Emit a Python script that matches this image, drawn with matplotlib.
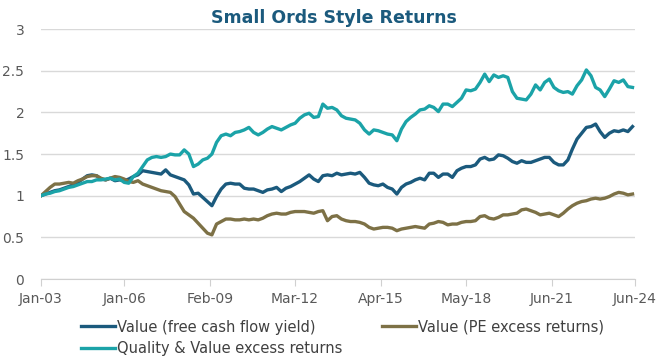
import pandas as pd
import matplotlib
matplotlib.use("Agg")
import matplotlib.pyplot as plt

# bimonthly readings, Jan-03 .. May-24
dates = pd.date_range("2003-01-01", periods=129, freq="2MS")

fcf_yield = [
    1.00, 1.02, 1.04, 1.06, 1.07, 1.09, 1.11, 1.13, 1.16, 1.20, 1.24, 1.25, 1.24, 1.20, 1.19, 1.21,
    1.18, 1.19, 1.18, 1.20, 1.23, 1.25, 1.30, 1.29, 1.28, 1.27, 1.26, 1.31, 1.25, 1.23, 1.21, 1.19,
    1.13, 1.02, 1.03, 0.98, 0.93, 0.88, 0.99, 1.08, 1.14, 1.15, 1.14, 1.14, 1.09, 1.08, 1.08, 1.06,
    1.04, 1.07, 1.08, 1.10, 1.05, 1.09, 1.11, 1.14, 1.17, 1.21, 1.25, 1.20, 1.17, 1.24, 1.25, 1.24,
    1.27, 1.25, 1.26, 1.27, 1.26, 1.28, 1.22, 1.15, 1.13, 1.12, 1.14, 1.10, 1.08, 1.02, 1.10, 1.14,
    1.16, 1.19, 1.21, 1.19, 1.27, 1.27, 1.22, 1.26, 1.26, 1.22, 1.30, 1.33, 1.35, 1.35, 1.37, 1.44,
    1.46, 1.43, 1.44, 1.49, 1.48, 1.45, 1.41, 1.39, 1.42, 1.40, 1.40, 1.42, 1.44, 1.46, 1.46, 1.40,
    1.37, 1.37, 1.43, 1.56, 1.68, 1.75, 1.82, 1.83, 1.86, 1.77, 1.70, 1.75, 1.78, 1.77, 1.79, 1.77,
    1.83,
]

pe_excess = [
    1.00, 1.05, 1.10, 1.14, 1.14, 1.15, 1.16, 1.15, 1.18, 1.20, 1.23, 1.24, 1.24, 1.21, 1.19, 1.21,
    1.23, 1.22, 1.20, 1.17, 1.16, 1.18, 1.14, 1.12, 1.10, 1.08, 1.06, 1.05, 1.04, 0.99, 0.90, 0.81,
    0.77, 0.73, 0.67, 0.61, 0.55, 0.53, 0.66, 0.69, 0.72, 0.72, 0.71, 0.71, 0.72, 0.71, 0.72, 0.71,
    0.73, 0.76, 0.78, 0.79, 0.78, 0.78, 0.80, 0.81, 0.81, 0.81, 0.80, 0.79, 0.81, 0.82, 0.70, 0.75,
    0.76, 0.72, 0.70, 0.69, 0.69, 0.68, 0.66, 0.62, 0.60, 0.61, 0.62, 0.62, 0.61, 0.58, 0.60, 0.61,
    0.62, 0.63, 0.62, 0.61, 0.66, 0.67, 0.69, 0.68, 0.65, 0.66, 0.66, 0.68, 0.69, 0.69, 0.70, 0.75,
    0.76, 0.73, 0.72, 0.74, 0.77, 0.77, 0.78, 0.79, 0.83, 0.84, 0.82, 0.80, 0.77, 0.78, 0.79, 0.77,
    0.75, 0.79, 0.84, 0.88, 0.91, 0.93, 0.94, 0.96, 0.97, 0.96, 0.97, 0.99, 1.02, 1.04, 1.03, 1.01,
    1.02,
]

quality_value = [
    1.00, 1.02, 1.03, 1.05, 1.06, 1.08, 1.10, 1.11, 1.13, 1.15, 1.17, 1.17, 1.19, 1.19, 1.20, 1.21,
    1.19, 1.20, 1.16, 1.15, 1.23, 1.27, 1.35, 1.43, 1.46, 1.47, 1.46, 1.47, 1.50, 1.49, 1.49, 1.55,
    1.50, 1.35, 1.38, 1.43, 1.45, 1.50, 1.64, 1.72, 1.74, 1.72, 1.76, 1.77, 1.79, 1.82, 1.76, 1.73,
    1.76, 1.80, 1.83, 1.81, 1.79, 1.82, 1.85, 1.87, 1.93, 1.97, 1.99, 1.94, 1.95, 2.10, 2.05, 2.06,
    2.03, 1.96, 1.93, 1.92, 1.91, 1.87, 1.79, 1.74, 1.79, 1.78, 1.76, 1.74, 1.73, 1.66, 1.80, 1.89,
    1.94, 1.98, 2.03, 2.04, 2.08, 2.06, 2.01, 2.10, 2.10, 2.07, 2.12, 2.17, 2.27, 2.26, 2.28, 2.36,
    2.46, 2.37, 2.45, 2.42, 2.44, 2.42, 2.25, 2.17, 2.16, 2.15, 2.22, 2.33, 2.27, 2.36, 2.40, 2.30,
    2.26, 2.24, 2.25, 2.22, 2.32, 2.39, 2.51, 2.44, 2.30, 2.27, 2.19, 2.28, 2.38, 2.36, 2.39, 2.31,
    2.30,
]

tick_dates = ["2003-01-01", "2006-01-01", "2009-02-01", "2012-03-01",
              "2015-04-01", "2018-05-01", "2021-06-01", "2024-06-01"]
tick_labels = ["Jan-03", "Jan-06", "Feb-09", "Mar-12", "Apr-15", "May-18", "Jun-21", "Jun-24"]

navy = "#1b5a7d"
olive = "#7d7146"
teal = "#1ba3a8"

fig = plt.figure(figsize=(6.68, 3.64), dpi=100)
ax = fig.add_axes([0.0614, 0.2335, 0.889, 0.6865])

l1, = ax.plot(dates, fcf_yield, color=navy, lw=2.4, label="Value (free cash flow yield)")
l2, = ax.plot(dates, pe_excess, color=olive, lw=2.4, label="Value (PE excess returns)")
l3, = ax.plot(dates, quality_value, color=teal, lw=2.4, label="Quality & Value excess returns")

ax.set_ylim(0, 3)
ax.set_yticks([0, 0.5, 1, 1.5, 2, 2.5, 3])
ax.set_yticklabels(["0", "0.5", "1", "1.5", "2", "2.5", "3"])
ax.set_xlim(pd.Timestamp("2003-01-01"), pd.Timestamp("2024-06-01"))
ax.set_xticks(pd.to_datetime(tick_dates))
ax.set_xticklabels(tick_labels)

ax.grid(axis="y", color="#d9d9d9", lw=1)
ax.set_axisbelow(True)
for s in ["left", "right", "top"]:
    ax.spines[s].set_visible(False)
ax.spines["bottom"].set_color("#d0d0d0")
ax.tick_params(axis="y", length=0, pad=12, labelsize=10, labelcolor="#595959")
ax.tick_params(axis="x", length=5, color="#d0d0d0", pad=4, labelsize=10, labelcolor="#595959")

fig.text(0.5, 0.975, "Small Ords Style Returns", ha="center", va="top",
         fontsize=12.5, fontweight="bold", color="#1b5a7d")

# column-major fill, so order gives rows: fcf | pe, then q&v
fig.legend(handles=[l1, l3, l2], loc="upper left", bbox_to_anchor=(0.122, 0.122), ncol=2,
           frameon=False, fontsize=10.5, handlelength=2.3, handletextpad=0.15,
           columnspacing=2.7, labelspacing=0.45, borderaxespad=0, borderpad=0,
           labelcolor="#404040")

fig.savefig("out.png", dpi=100)
